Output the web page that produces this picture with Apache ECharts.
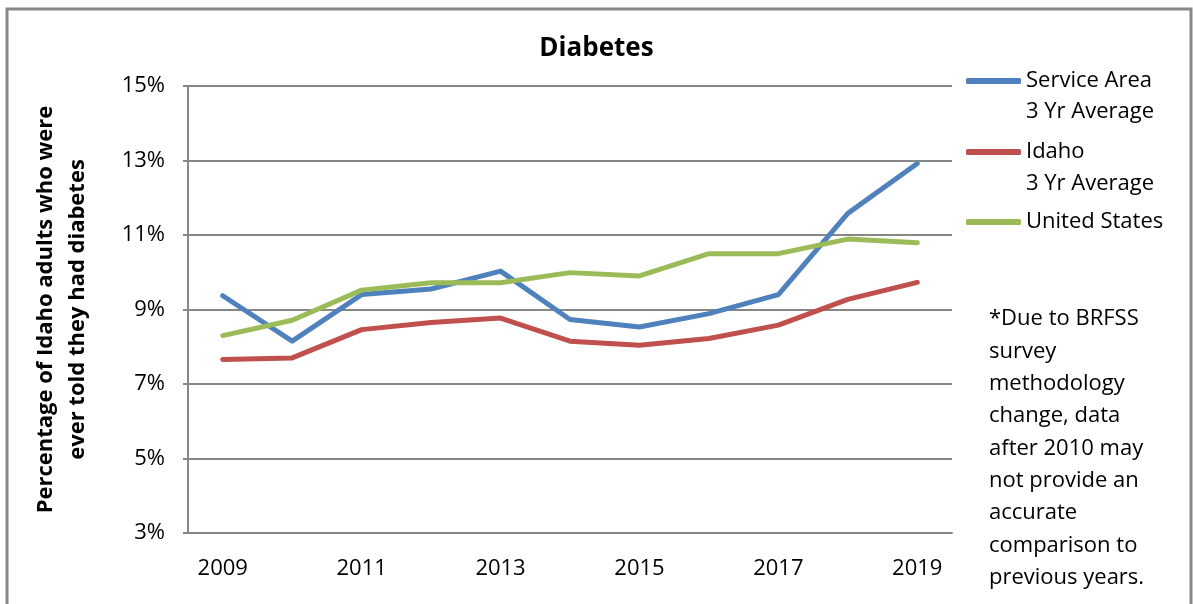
<!DOCTYPE html>
<html>
<head>
<meta charset="utf-8">
<script src="https://cdn.jsdelivr.net/npm/echarts@6/dist/echarts.min.js"></script>
<style>
  html, body { margin: 0; padding: 0; background: #fff; }
  #chart_container { width: 1193px; height: 604px; }
</style>
</head>
<body>
<div id="chart_container"></div>
<script>
var years = ['2009', '2010', '2011', '2012', '2013', '2014', '2015', '2016', '2017', '2018', '2019'];
var service_area = [9.37, 8.15, 9.40, 9.55, 10.03, 8.73, 8.53, 8.89, 9.40, 11.58, 12.92];
var idaho = [7.66, 7.70, 8.46, 8.65, 8.77, 8.15, 8.04, 8.22, 8.58, 9.27, 9.73];
var united_states = [8.30, 8.71, 9.52, 9.72, 9.72, 9.99, 9.90, 10.50, 10.50, 10.89, 10.79];
var series_names = ['Service Area\n3 Yr Average', 'Idaho\n3 Yr Average', 'United States'];
var colors = ['#4F81BD', '#C0504D', '#9BBB59'];
var footnote = '*Due to BRFSS\nsurvey\nmethodology\nchange, data\nafter 2010 may\nnot provide an\naccurate\ncomparison to\nprevious years.';

var font = 'Open Sans';
var dom = document.getElementById('chart_container');
var myChart = echarts.init(dom);

function makeSeries(name, data, color) {
    return {
        name: name,
        type: 'line',
        data: data,
        symbol: 'none',
        showSymbol: false,
        animation: false,
        lineStyle: { color: color, width: 5, cap: 'round', join: 'round' },
        itemStyle: { color: color }
    };
}

function makeLegend(name, top) {
    return {
        data: [name],
        left: 966,
        top: top,
        padding: 0,
        orient: 'vertical',
        icon: 'roundRect',
        itemWidth: 55,
        itemHeight: 6,
        formatter: function (n) { return n.split('\n')[0]; },
        textStyle: { fontFamily: font, fontSize: 22, color: '#000', lineHeight: 32 }
    };
}

var option = {
    backgroundColor: '#fff',
    animation: false,
    title: {
        text: 'Diabetes',
        left: 'center',
        top: 36,
        padding: 0,
        textStyle: { fontFamily: font, fontSize: 26, fontWeight: 'bold', color: '#000' }
    },
    legend: [
        makeLegend(series_names[0], 65),
        makeLegend(series_names[1], 136),
        makeLegend(series_names[2], 206)
    ],
    grid: { left: 188, right: 241, top: 86, bottom: 71, containLabel: false },
    xAxis: {
        type: 'category',
        data: years,
        boundaryGap: true,
        axisLine: { lineStyle: { color: '#878787', width: 2 } },
        axisTick: { show: false },
        axisLabel: { interval: 1, margin: 25, fontFamily: font, fontSize: 22, color: '#000' },
        splitLine: { show: false }
    },
    yAxis: {
        type: 'value',
        min: 3,
        max: 15,
        interval: 2,
        name: 'Percentage of Idaho adults who were\never told they had diabetes',
        nameLocation: 'middle',
        nameRotate: 90,
        nameGap: 94,
        nameTextStyle: { fontFamily: font, fontSize: 22, fontWeight: 'bold', color: '#000', lineHeight: 32, align: 'center' },
        axisLine: { show: true, lineStyle: { color: '#878787', width: 2 } },
        axisTick: { show: true, length: 5, lineStyle: { color: '#878787', width: 2 } },
        axisLabel: { margin: 23, fontFamily: font, fontSize: 22, color: '#000', formatter: '{value}%' },
        splitLine: { show: true, lineStyle: { color: '#878787', width: 2 } }
    },
    graphic: [
        {
            type: 'polyline',
            shape: { points: [[7, 610], [7, 9], [1191, 9], [1191, 610]] },
            style: { stroke: '#878787', lineWidth: 3, fill: null },
            silent: true
        },
        {
            type: 'text', left: 1026, top: 101,
            style: { text: '3 Yr Average', font: '22px "Open Sans"', fill: '#000' }
        },
        {
            type: 'text', left: 1026, top: 173,
            style: { text: '3 Yr Average', font: '22px "Open Sans"', fill: '#000' }
        },
        {
            type: 'text', left: 989, top: 303,
            style: { text: footnote, font: '22px "Open Sans"', fill: '#000', lineHeight: 32.3 }
        }
    ],
    series: [
        makeSeries(series_names[0], service_area, colors[0]),
        makeSeries(series_names[1], idaho, colors[1]),
        makeSeries(series_names[2], united_states, colors[2])
    ]
};

myChart.setOption(option, true);
</script>
</body>
</html>
